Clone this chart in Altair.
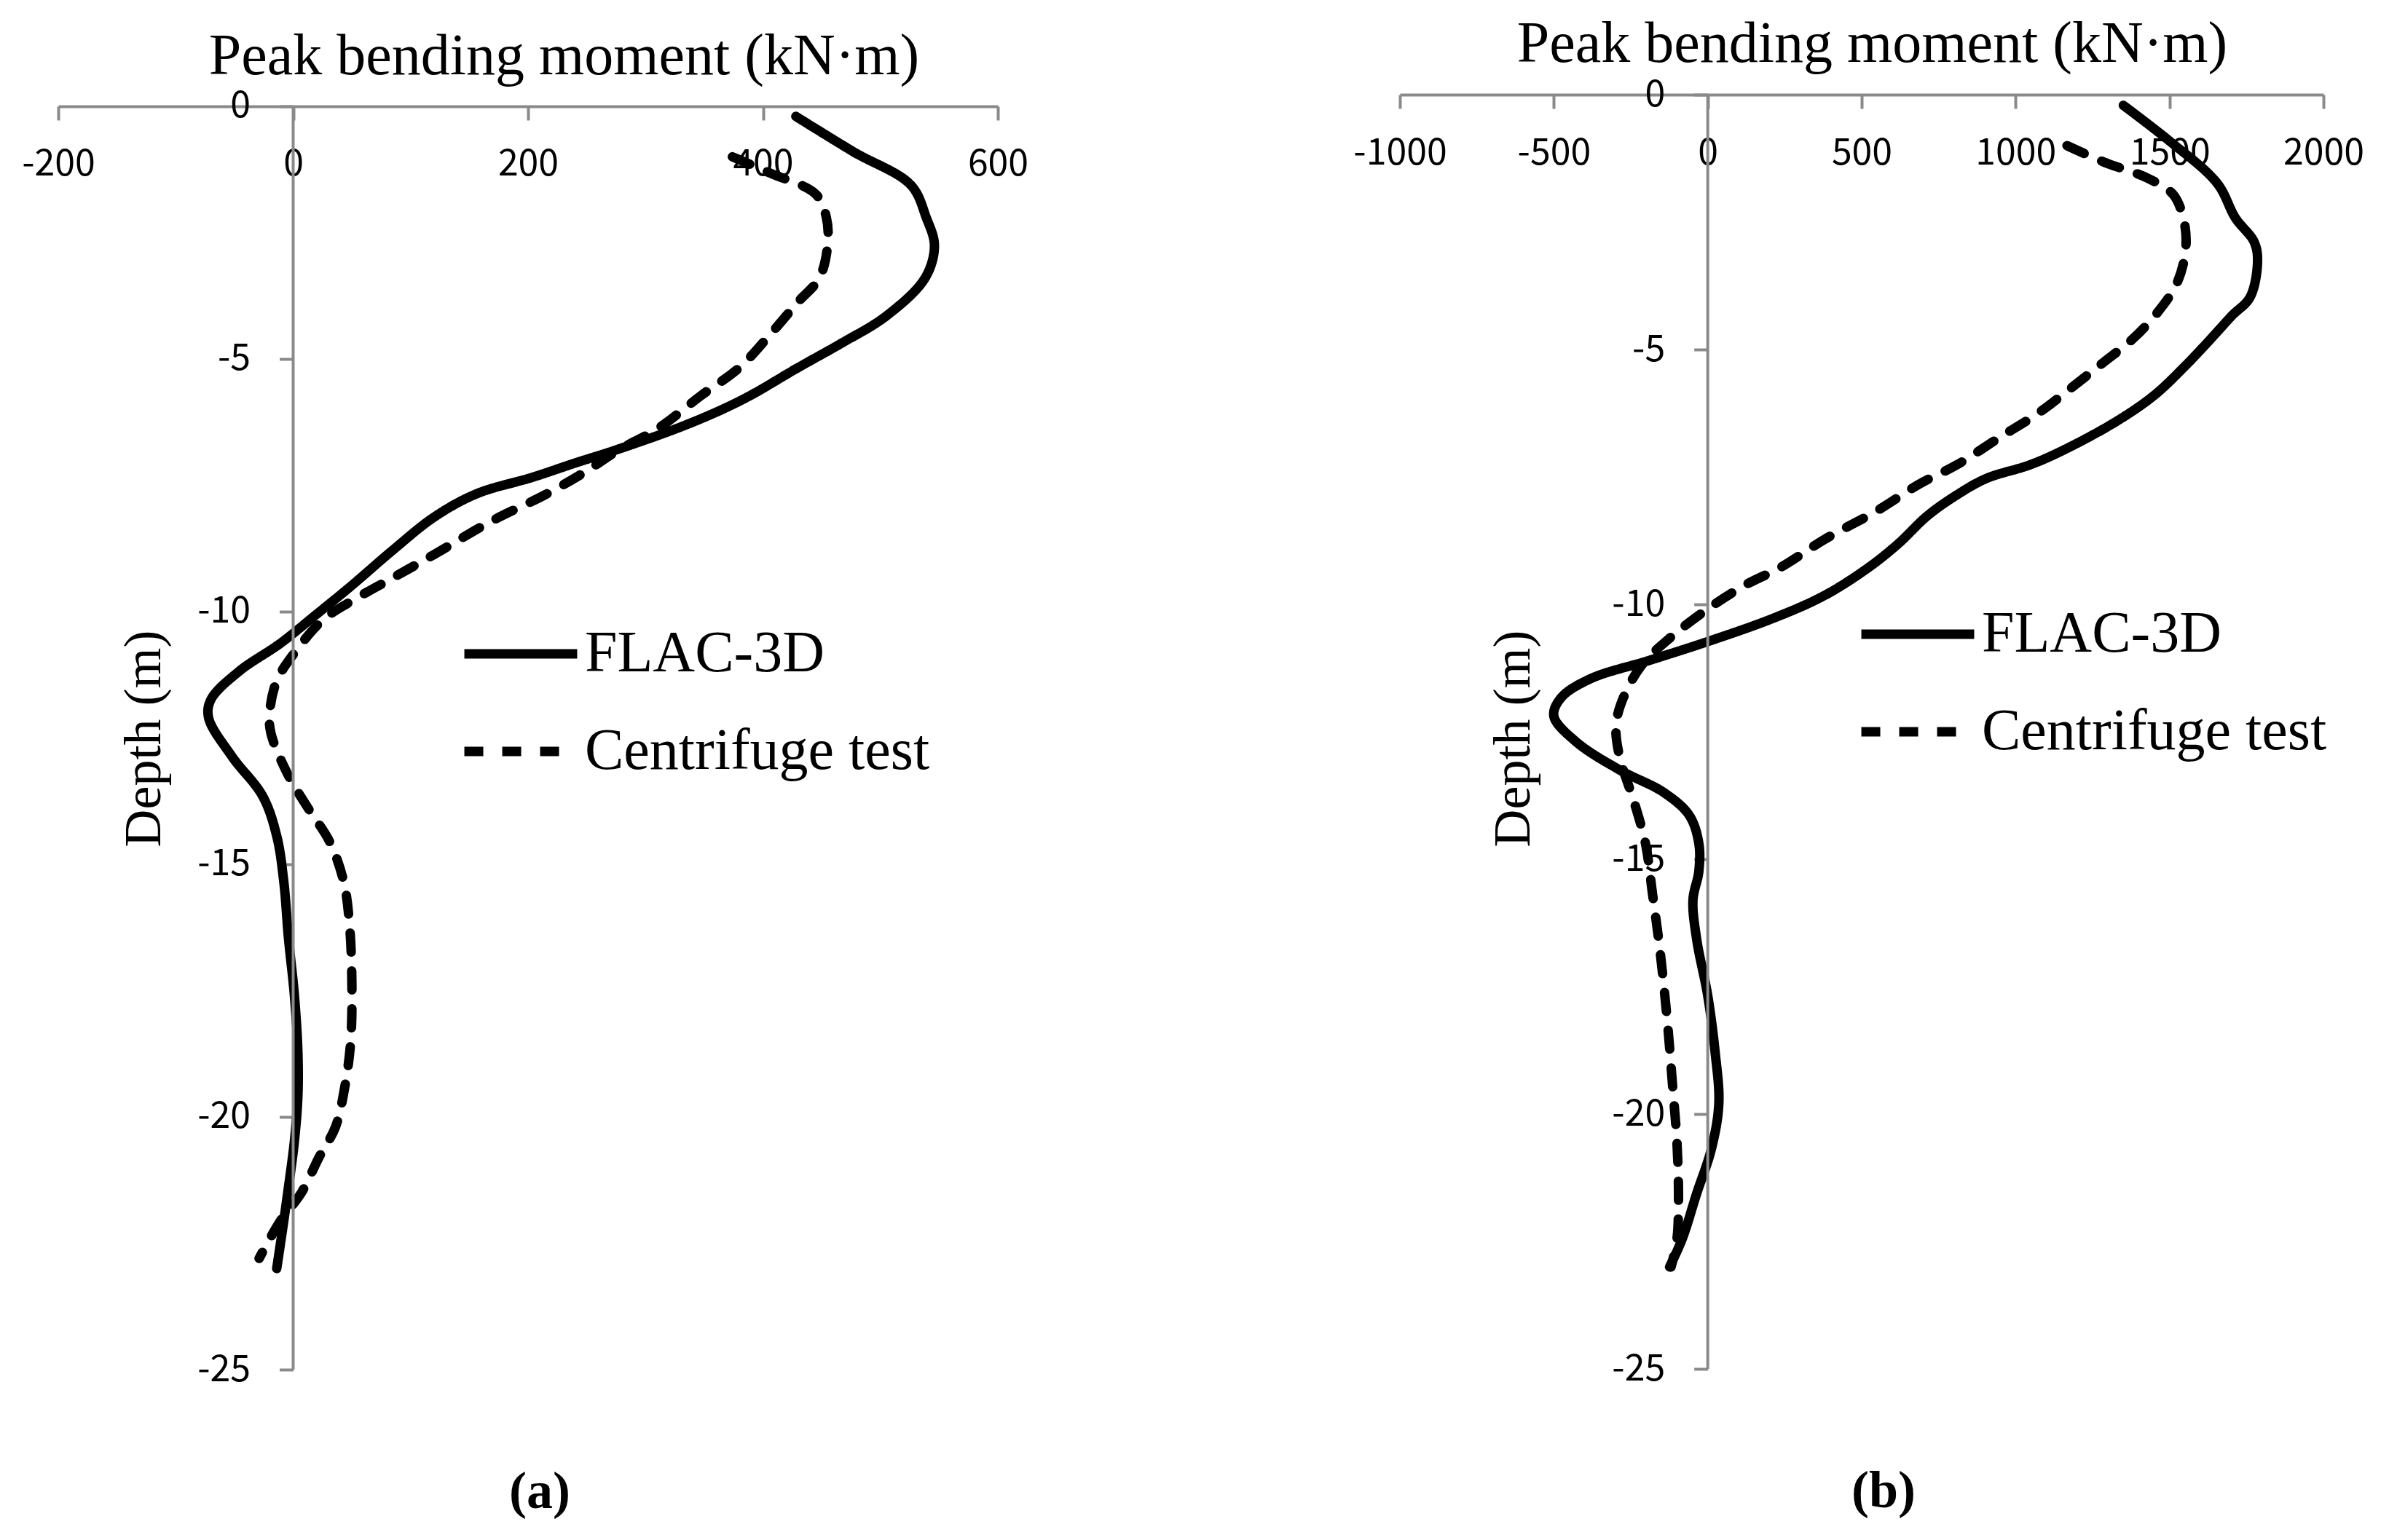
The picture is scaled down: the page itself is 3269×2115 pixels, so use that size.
import altair as alt
import pandas as pd

# ---------------- data ----------------
series = ["FLAC-3D", "Centrifuge test"]
y_ticks = [0, -5, -10, -15, -20, -25]
x_ticks_a = [-200, 0, 200, 400, 600]
x_ticks_b = [-1000, -500, 0, 500, 1000, 1500, 2000]

# Panel (a)
a_flac_depth = [-0.2, -0.9, -1.56, -2.2, -2.76, -3.4, -4.15, -4.7, -5.17, -5.8, -6.3, -6.8,
                -7.06, -7.34, -7.67, -8.13, -8.78, -9.5, -10.07, -10.63, -11.18, -11.74,
                -12.1, -12.87, -13.65, -14.44, -15.34, -16.46, -17.58, -18.7, -19.6, -20.49,
                -21.39, -22.06, -23.0]
a_flac_moment = [428, 477, 526, 539, 546, 538, 505, 466, 430, 383, 335, 275,
                 240, 204, 156, 120, 85, 49, 19, -11, -46, -70,
                 -72, -52, -26, -14, -8, -4, 1, 4, 4, 1,
                 -4, -8, -14]
a_cent_depth = [-1.0, -1.32, -1.74, -2.2, -2.76, -3.4, -3.87, -4.52, -5.17, -5.73, -6.37,
                -6.83, -7.2, -7.67, -8.22, -8.87, -9.33, -9.8, -10.17, -10.82, -11.37,
                -12.0, -12.4, -13.2, -13.9, -14.55, -15.34, -16.2, -17.35, -18.5, -19.4,
                -20.2, -20.8, -21.5, -22.06, -22.8]
a_cent_moment = [374, 406, 445, 454, 455, 448, 430, 406, 380, 347, 311,
                 275, 251, 216, 168, 120, 85, 49, 25, 1, -14,
                 -20, -19, -5, 13, 31, 43, 48, 50, 49, 44,
                 36, 22, 7, -11, -29]

# Panel (b)
b_flac_depth = [-0.21, -0.91, -1.74, -2.42, -2.88, -3.24, -3.97, -4.34, -4.89, -5.34, -5.89,
                -6.39, -6.94, -7.26, -7.53, -7.85, -8.26, -8.81, -9.27, -9.82, -10.27,
                -10.73, -11.1, -11.46, -11.83, -12.19, -12.69, -13.25, -13.69, -14.14,
                -14.69, -15.24, -15.8, -16.57, -17.68, -18.79, -19.79, -20.68, -21.56,
                -22.45, -23.0]
b_flac_moment = [1350, 1500, 1655, 1714, 1774, 1786, 1762, 1702, 1619, 1548, 1452,
                 1333, 1167, 1048, 905, 810, 714, 619, 524, 381, 214,
                 0, -190, -381, -476, -500, -429, -286, -143, -60,
                 -29, -29, -48, -36, 0, 24, 36, 12, -36,
                 -83, -124]
b_cent_depth = [-1.0, -1.32, -1.64, -1.96, -2.51, -3.06, -3.7, -4.25, -4.79, -5.25, -5.71,
                -6.26, -6.71, -7.26, -7.63, -8.17, -8.72, -9.27, -9.63, -10.09, -10.64,
                -11.19, -11.83, -12.37, -13.0, -13.9, -14.7, -15.7, -16.8, -18.2, -19.46,
                -20.56, -21.67, -22.45, -23.0]
b_cent_moment = [1167, 1286, 1429, 1512, 1548, 1552, 1524, 1464, 1381, 1286, 1190,
                 1071, 952, 810, 690, 548, 381, 238, 119, 0, -119,
                 -214, -274, -298, -286, -238, -202, -179, -155, -131, -114,
                 -100, -95, -100, -119]

# ---------------- styling ----------------
GRAY = "#8a8a8a"
SERIF = "Liberation Serif"
SANS = "Noto Sans CJK KR"


def frame(depths, moments, name):
    return pd.DataFrame({"depth": depths, "moment": moments, "series": name,
                         "idx": list(range(len(depths)))})


def panel(df, xdom, xticks, width, height, ytop, title_x, title_y, ytitle_x,
          legend_x, legend_y, caption, cap_dx):
    xpos = width * (0 - xdom[0]) / (xdom[1] - xdom[0])
    x_axis_pos = height * ytop / (ytop + 25)
    xscale = alt.Scale(domain=xdom, nice=False, zero=False)
    yscale = alt.Scale(domain=[-25, ytop], nice=False, zero=False)

    lines = alt.Chart(df).mark_line(
        color="black", strokeWidth=13, strokeCap="round", interpolate="catmull-rom"
    ).encode(
        x=alt.X("moment:Q", scale=xscale, axis=alt.Axis(
            orient="bottom", offset=-(height - x_axis_pos), values=xticks,
            title="Peak bending moment (kN·m)", titleFont=SERIF, titleFontSize=80,
            titleFontWeight="normal", titleColor="black", titleX=title_x, titleY=title_y,
            titleAlign="center", titleBaseline="middle",
            labelFont=SANS, labelFontSize=50, labelColor="black", labelFlush=False,
            labelOverlap=False, labelPadding=36, labelExpr="'' + datum.value",
            tickSize=19, tickWidth=4, tickColor=GRAY,
            domainColor=GRAY, domainWidth=4, grid=False)),
        y=alt.Y("depth:Q", scale=yscale, axis=alt.Axis(
            orient="left", offset=-xpos, values=y_ticks, domain=False,
            title="Depth (m)", titleFont=SERIF, titleFontSize=72, titleFontWeight="normal",
            titleColor="black", titleX=ytitle_x, titleY=884, titleAngle=270,
            titleAlign="center", titleBaseline="middle",
            labelFont=SANS, labelFontSize=50, labelColor="black", labelOverlap=False,
            labelPadding=40, labelExpr="'' + datum.value",
            tickSize=19, tickWidth=4, tickColor=GRAY, grid=False)),
        strokeDash=alt.StrokeDash("series:N", sort=series,
            scale=alt.Scale(domain=series, range=[[1, 0], [26, 26]]),
            legend=alt.Legend(title=None, orient="none", legendX=legend_x, legendY=legend_y,
                              symbolType="stroke", symbolSize=24000, symbolStrokeWidth=13,
                              symbolStrokeColor="black", labelFont=SERIF, labelFontSize=80,
                              labelColor="black", labelOffset=4, labelLimit=1000,
                              rowPadding=10, padding=0)),
        order="idx:Q",
    )

    axis_df = pd.DataFrame({"x": [0], "y0": [0], "y1": [-25]})
    yline = alt.Chart(axis_df).mark_rule(color=GRAY, strokeWidth=4).encode(
        x=alt.X("x:Q", scale=xscale),
        y=alt.Y("y0:Q", scale=yscale),
        y2="y1:Q",
    )

    return alt.layer(lines, yline).properties(
        width=width, height=height,
        title=alt.TitleParams(caption, orient="bottom", anchor="middle", frame="group",
                              offset=108, dx=cap_dx, font=SERIF, fontSize=72,
                              fontWeight="bold", color="black"),
    )


df_a = pd.concat([frame(a_flac_depth, a_flac_moment, series[0]),
                  frame(a_cent_depth, a_cent_moment, series[1])], ignore_index=True)
df_b = pd.concat([frame(b_flac_depth, b_flac_moment, series[0]),
                  frame(b_cent_depth, b_cent_moment, series[1])], ignore_index=True)

pa = panel(df_a, [-200, 600], x_ticks_a, 1290, 1751, 0.23, 694, -68, -205,
           551, 684, "(a)", 16)
pb = panel(df_b, [-1000, 2000], x_ticks_b, 1268, 1750, 0.0, 648, -70, -267,
           627, 657, "(b)", 30)

chart = alt.hconcat(pa, pb, spacing=552, bounds="flush").resolve_scale(
    x="independent", y="independent", strokeDash="independent"
).resolve_legend(strokeDash="independent").properties(
    padding={"left": 21, "top": 12, "right": 10, "bottom": 24}, background="white"
).configure_view(strokeWidth=0)

chart.save("out.html", embed_options={"renderer": "svg", "actions": False})
